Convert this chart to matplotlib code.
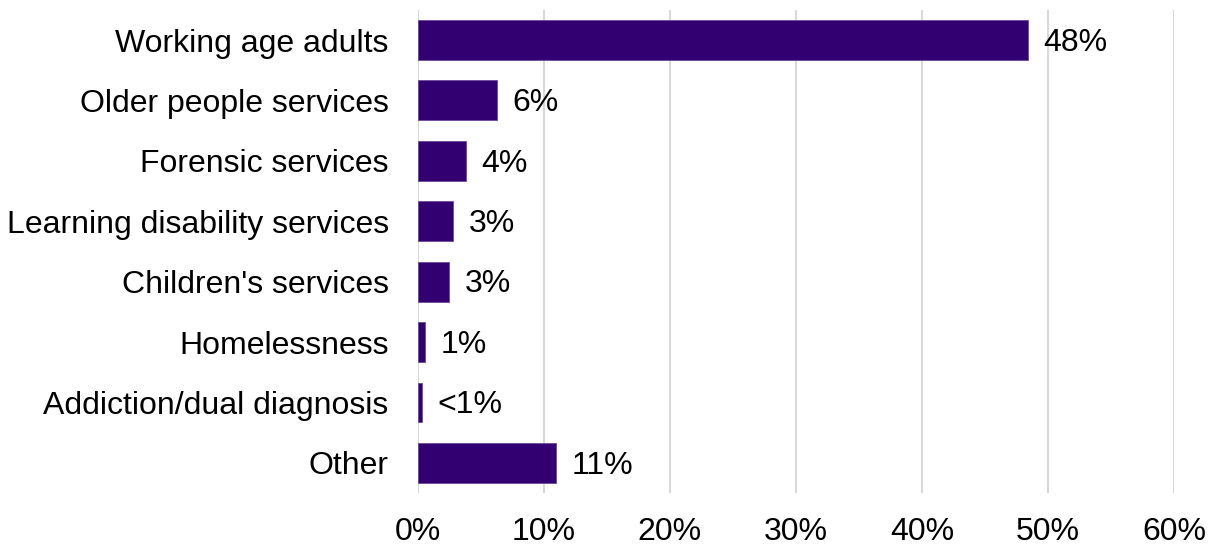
import matplotlib
matplotlib.use("Agg")
import matplotlib.pyplot as plt
from matplotlib.ticker import PercentFormatter

categories = ["Working age adults", "Older people services", "Forensic services",
              "Learning disability services", "Children's services", "Homelessness",
              "Addiction/dual diagnosis", "Other"]
values = [48.4, 6.3, 3.8, 2.8, 2.5, 0.6, 0.35, 11.0]
value_labels = ["48%", "6%", "4%", "3%", "3%", "1%", "<1%", "11%"]
xticks = [0, 10, 20, 30, 40, 50, 60]

plt.rcParams['font.family'] = ['Liberation Sans', 'DejaVu Sans']

fig = plt.figure(figsize=(12.11, 5.46), dpi=100)
ax = fig.add_axes([0.345, 0.097, 0.6245, 0.885])

pos = list(range(len(categories)))
bars = ax.barh(pos, values, height=0.66, color='#330072', edgecolor='#6a4a9a', linewidth=0.6, zorder=3)
ax.set_ylim(len(categories) - 0.5, -0.5)
ax.set_xlim(0, 60)
ax.set_yticks(pos)
ax.set_yticklabels(categories, fontsize=23)
ax.set_xticks(xticks)
ax.xaxis.set_major_formatter(PercentFormatter(decimals=0))
ax.tick_params(axis='x', labelsize=23, length=0, pad=17)
ax.tick_params(axis='y', length=0, pad=21)
ax.grid(axis='x', color='#d9d9d9', linewidth=1.5, zorder=0)
for s in ax.spines.values():
    s.set_visible(False)

for b, lab in zip(bars, value_labels):
    ax.annotate(lab, (b.get_width(), b.get_y() + b.get_height() / 2),
                xytext=(11, -2), textcoords='offset points',
                va='center', ha='left', fontsize=23)

plt.savefig("out.png", dpi=100)
plt.close()
